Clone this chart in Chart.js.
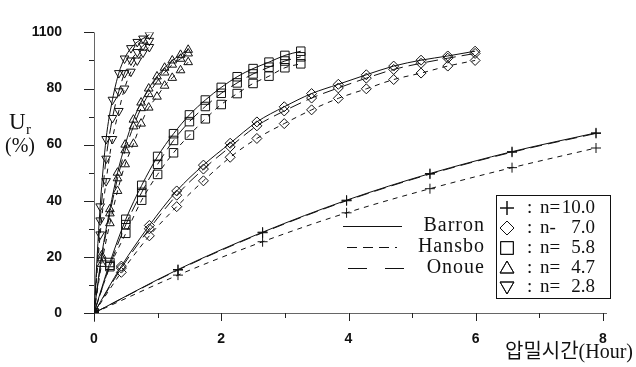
<!DOCTYPE html>
<html>
<head>
<meta charset="utf-8">
<script src="https://cdn.jsdelivr.net/npm/chart.js@4.4.1/dist/chart.umd.min.js"></script>
<style>
  html, body { margin: 0; padding: 0; background: #fff; }
  #wrap { width: 636px; height: 367px; }
</style>
</head>
<body>
<div id="wrap"><canvas id="chart" width="636" height="367"></canvas></div>
<script>
// 축 눈금
const xTicks = [0, 1, 2, 3, 4, 5, 6, 7, 8];
const xTickLabels = ['0', '', '2', '', '4', '', '6', '', '8'];
const yTicks = [0, 10, 20, 30, 40, 50, 60, 70, 80, 90, 100];
const yTickLabels = ['0', '', '20', '', '40', '', '60', '', '80', '', '1100'];

// 범례
const methodNames = ['Barron', 'Hansbo', 'Onoue'];
const nLabels = ['n=', 'n-', 'n=', 'n=', 'n='];
const nValues = ['10.0', '7.0', '5.8', '4.7', '2.8'];

// n = 10.0 (+)
const timesN10 = [0, 1.32, 2.65, 3.97, 5.28, 6.57, 7.89];
const barronN10 = [0, 15.5, 28.8, 40.2, 49.7, 57.5, 64.2];
const hansboN10 = [0, 13.5, 25.4, 35.7, 44.3, 51.8, 58.8];
const onoueN10 = [0, 15.3, 28.6, 40.0, 49.5, 57.3, 64.0];

// n = 7.0 (◇)
const timesN7 = [0, 0.43, 0.87, 1.30, 1.72, 2.14, 2.56, 2.99, 3.42, 3.84, 4.28, 4.71, 5.14, 5.56, 5.99];
const barronN7 = [0, 16.7, 31.2, 43.5, 52.7, 60.5, 68.1, 73.5, 78.2, 81.5, 84.9, 88.0, 90.1, 91.6, 93.3];
const hansboN7 = [0, 14.5, 27.5, 37.9, 47.1, 55.5, 62.2, 67.5, 72.4, 76.5, 79.9, 83.2, 85.5, 88.0, 90.0];
const onoueN7 = [0, 16.0, 30.0, 42.0, 51.3, 59.2, 66.7, 72.0, 76.6, 80.2, 83.7, 86.8, 89.0, 90.8, 92.5];

// n = 5.8 (□)
const timesN58 = [0, 0.25, 0.50, 0.75, 1.00, 1.25, 1.50, 1.75, 2.00, 2.25, 2.50, 2.75, 3.00, 3.25];
const barronN58 = [0, 18.0, 33.4, 45.5, 55.8, 63.9, 70.6, 75.9, 80.4, 84.2, 87.1, 89.4, 91.8, 93.3];
const hansboN58 = [0, 16.5, 28.4, 40.2, 49.4, 57.1, 63.4, 69.2, 74.3, 78.2, 81.8, 84.4, 87.4, 88.8];
const onoueN58 = [0, 17.0, 31.5, 43.0, 53.0, 61.5, 68.2, 73.6, 78.3, 82.0, 85.2, 87.6, 89.8, 91.3];

// n = 4.7 (△)
const timesN47 = [0, 0.12, 0.25, 0.37, 0.49, 0.62, 0.74, 0.86, 0.99, 1.11, 1.23, 1.36, 1.48];
const barronN47 = [0, 20.5, 37.0, 50.0, 60.0, 68.9, 75.0, 80.0, 84.3, 87.4, 90.0, 92.0, 93.8];
const hansboN47 = [0, 17.5, 32.0, 43.5, 53.0, 60.3, 67.5, 73.2, 77.1, 81.0, 83.8, 86.5, 89.4];
const onoueN47 = [0, 19.5, 35.5, 48.0, 58.0, 66.5, 73.0, 78.0, 82.5, 85.7, 88.5, 90.6, 92.5];

// n = 2.8 (▽)
const timesN28 = [0, 0.097, 0.19, 0.29, 0.39, 0.48, 0.58, 0.68, 0.77, 0.87];
const barronN28 = [0, 38.0, 62.0, 76.0, 85.5, 90.7, 94.4, 96.6, 97.8, 99.2];
const hansboN28 = [0, 28.0, 47.0, 62.0, 72.0, 80.0, 86.0, 90.0, 92.8, 94.8];
const onoueN28 = [0, 33.0, 55.0, 69.5, 79.0, 85.5, 90.0, 93.0, 95.3, 97.0];

// 선 스타일 / 마커
const dashes = { Barron: [], Hansbo: [5, 5], Onoue: [12, 6] };
const markers = [
    { style: 'cross', radius: 5, rotation: 0, legendRadius: 7 },
    { style: 'rectRot', radius: 5, rotation: 0, legendRadius: 7 },
    { style: 'rect', radius: 6, rotation: 0, legendRadius: 9 },
    { style: 'triangle', radius: 5, rotation: 0, legendRadius: 8 },
    { style: 'triangle', radius: 5, rotation: 180, legendRadius: 8 }
];

const groups = [
    { t: timesN10, Barron: barronN10, Hansbo: hansboN10, Onoue: onoueN10 },
    { t: timesN7, Barron: barronN7, Hansbo: hansboN7, Onoue: onoueN7 },
    { t: timesN58, Barron: barronN58, Hansbo: hansboN58, Onoue: onoueN58 },
    { t: timesN47, Barron: barronN47, Hansbo: hansboN47, Onoue: onoueN47 },
    { t: timesN28, Barron: barronN28, Hansbo: hansboN28, Onoue: onoueN28 }
];

const datasets = [];
groups.forEach((g, i) => {
    methodNames.forEach(m => {
        datasets.push({
            label: m + ' ' + nValues[i],
            data: g.t.map((t, k) => ({ x: t, y: g[m][k] })),
            borderColor: '#111',
            borderWidth: 1,
            borderDash: dashes[m],
            cubicInterpolationMode: 'monotone',
            pointStyle: markers[i].style,
            pointRadius: markers[i].radius,
            pointRotation: markers[i].rotation,
            pointBorderColor: '#111',
            pointBorderWidth: 1,
            pointBackgroundColor: 'rgba(0,0,0,0)',
            fill: false
        });
    });
});

// 축선, 눈금, 제목, 범례 그리기
const framePlugin = {
    id: 'frame',
    beforeDatasetsDraw(chart) {
        const ctx = chart.ctx;
        const xs = chart.scales.x, ys = chart.scales.y;
        const x0 = xs.getPixelForValue(0), y0 = ys.getPixelForValue(0);
        ctx.save();
        ctx.strokeStyle = '#666';
        ctx.lineWidth = 1;
        ctx.beginPath();
        ctx.moveTo(x0 + 0.5, ys.getPixelForValue(100));
        ctx.lineTo(x0 + 0.5, y0 + 9);
        ctx.moveTo(x0 - 4, y0 + 0.5);
        ctx.lineTo(xs.getPixelForValue(8) + 4, y0 + 0.5);
        ctx.stroke();
        ctx.strokeStyle = '#222';
        ctx.beginPath();
        yTicks.forEach((v, i) => {
            const py = Math.round(ys.getPixelForValue(v)) + 0.5;
            const len = yTickLabels[i] ? 10 : 5;
            ctx.moveTo(x0 - len, py);
            ctx.lineTo(x0, py);
        });
        xTicks.forEach((v, i) => {
            const px = Math.round(xs.getPixelForValue(v)) + 0.5;
            const len = xTickLabels[i] ? 8 : 5;
            ctx.moveTo(px, y0);
            ctx.lineTo(px, y0 + len);
        });
        ctx.stroke();
        ctx.restore();
    },
    afterDraw(chart) {
        const ctx = chart.ctx;
        ctx.save();
        ctx.fillStyle = '#111';
        ctx.strokeStyle = '#111';
        ctx.textBaseline = 'middle';

        // y축 제목
        ctx.font = '23px "Liberation Serif"';
        ctx.textAlign = 'left';
        ctx.fillText('U', 9, 123);
        ctx.font = '15px "Liberation Serif"';
        ctx.fillText('r', 26, 130);
        ctx.font = '20px "Liberation Serif"';
        ctx.fillText('(%)', 5, 147);

        // x축 제목
        ctx.font = '20px "Liberation Serif", "Noto Sans CJK KR"';
        ctx.textAlign = 'right';
        ctx.fillText('압밀시간(Hour)', 633, 353);

        // 선 종류 범례
        const lineRows = [226, 247, 268];
        const lineSpans = [[343, 402], [347, 397], [348, 406]];
        const legendDash = { Barron: [], Hansbo: [10, 6], Onoue: [19, 18] };
        ctx.lineWidth = 1;
        methodNames.forEach((m, i) => {
            ctx.setLineDash(legendDash[m]);
            ctx.beginPath();
            ctx.moveTo(lineSpans[i][0], lineRows[i] + 0.5);
            ctx.lineTo(lineSpans[i][1], lineRows[i] + 0.5);
            ctx.stroke();
        });
        ctx.setLineDash([]);
        ctx.font = '20px "Liberation Serif"';
        ctx.letterSpacing = '1px';
        ctx.textAlign = 'right';
        methodNames.forEach((m, i) => ctx.fillText(m, 485, lineRows[i]));
        ctx.letterSpacing = '0px';

        // n 범례 상자
        ctx.strokeRect(496.5, 195.5, 114, 103);
        const rows = [208, 228, 248, 268, 287];
        rows.forEach((ry, i) => {
            const mk = markers[i];
            ctx.fillStyle = 'rgba(0,0,0,0)';
            Chart.helpers.drawPoint(ctx, {
                pointStyle: mk.style,
                rotation: mk.rotation,
                radius: mk.legendRadius,
                borderWidth: 1
            }, 507, ry + (mk.style === 'triangle' ? (mk.rotation ? -1 : 1) : 0));
            ctx.stroke();
            ctx.fillStyle = '#111';
            ctx.font = '19px "Liberation Serif"';
            ctx.textAlign = 'left';
            ctx.fillText(':', 527, ry);
            ctx.fillText(nLabels[i], 540, ry);
            ctx.textAlign = 'right';
            ctx.fillText(nValues[i], 595, ry);
        });
        ctx.restore();
    }
};

new Chart(document.getElementById('chart'), {
    type: 'line',
    data: { datasets: datasets },
    options: {
        responsive: false,
        animation: false,
        layout: { padding: { top: 15, right: 33, bottom: 0, left: 0 } },
        plugins: { legend: { display: false }, tooltip: { enabled: false } },
        scales: {
            x: {
                type: 'linear',
                min: 0,
                max: 8,
                afterFit(scale) { scale.height = 54; },
                afterBuildTicks(scale) { scale.ticks = xTicks.map(v => ({ value: v })); },
                grid: { display: false },
                border: { display: false },
                ticks: {
                    autoSkip: false,
                    maxRotation: 0,
                    padding: 10,
                    color: '#111',
                    font: { family: '"Liberation Sans"', size: 14, weight: 'bold' },
                    callback: (v) => xTickLabels[xTicks.indexOf(v)] || ''
                }
            },
            y: {
                type: 'linear',
                min: 0,
                max: 100,
                afterFit(scale) { scale.width = 94; },
                afterBuildTicks(scale) { scale.ticks = yTicks.map(v => ({ value: v })); },
                grid: { display: false },
                border: { display: false },
                ticks: {
                    autoSkip: false,
                    padding: 24,
                    color: '#111',
                    font: { family: '"Liberation Sans"', size: 14, weight: 'bold' },
                    callback: (v) => yTickLabels[yTicks.indexOf(v)] || ''
                }
            }
        }
    },
    plugins: [framePlugin]
});
</script>
</body>
</html>
